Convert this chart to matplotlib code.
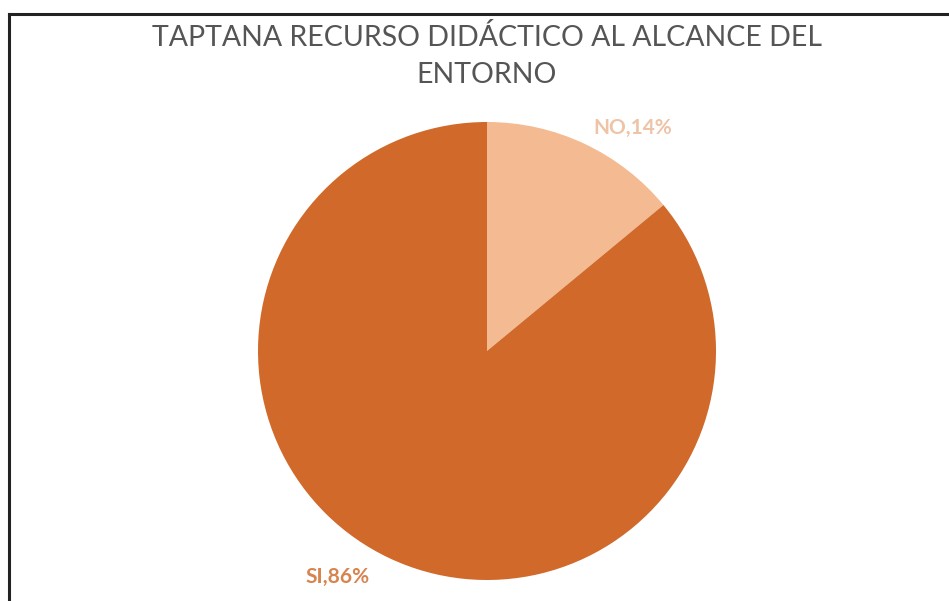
import matplotlib
matplotlib.use("Agg")
import matplotlib.pyplot as plt
from matplotlib.lines import Line2D

title = "TAPTANA RECURSO DIDÁCTICO AL ALCANCE DEL\nENTORNO"
categories = ["NO", "SI"]
shares = [14, 86]
slice_colors = ["#F4BA91", "#D0692A"]
label_colors = ["#EFC3A6", "#D7844F"]

W, H = 949, 601
fig = plt.figure(figsize=(W / 100, H / 100), dpi=100)
ax = fig.add_axes([0, 0, 1, 1])

cx, cy, r = 487, H - 351, 229
ax.pie(shares, colors=slice_colors, startangle=90, counterclock=False,
       center=(cx, cy), radius=r, frame=True, wedgeprops=dict(linewidth=0))
ax.set_xlim(0, W)
ax.set_ylim(0, H)
ax.set_aspect("equal")
ax.axis("off")

font = ["Lato", "DejaVu Sans"]
label_pos = [(633, H - 128), (338, H - 577)]
for cat, val, col, (lx, ly) in zip(categories, shares, label_colors, label_pos):
    ax.text(lx, ly, f"{cat},{val}%", color=col, fontsize=15, fontfamily=font,
            fontweight="bold", ha="center", va="center")

for i, line in enumerate(title.split("\n")):
    ax.text(487, H - 38 - 37 * i, line, color="#555555", fontsize=20.5,
            fontfamily=font, ha="center", va="center")

# chart frame (left and top edges)
ax.add_line(Line2D([9.5, 9.5], [0, H - 13.5], color="#222222", linewidth=2.2,
                   solid_capstyle="projecting"))
ax.add_line(Line2D([9.5, W], [H - 13.5, H - 13.5], color="#222222", linewidth=2.2,
                   solid_capstyle="projecting"))

fig.savefig("out.png", dpi=100, facecolor="white")
